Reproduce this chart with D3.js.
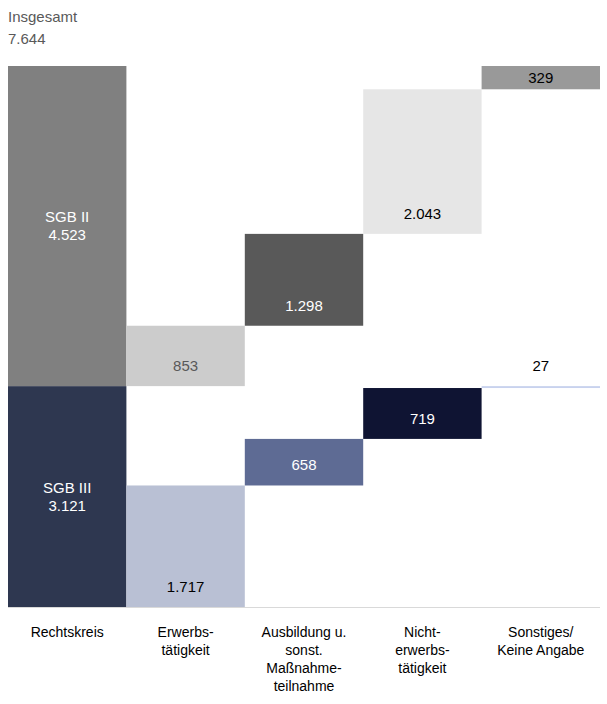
<!DOCTYPE html>
<html><head><meta charset="utf-8">
<script src="https://cdn.jsdelivr.net/npm/d3@7"></script>
<style>body{margin:0;background:#fff;font-family:"Liberation Sans",Arial,sans-serif;}</style>
</head><body><div id="chart"></div>
<script>
const categories = [["Rechtskreis"], ["Erwerbs-", "tätigkeit"], ["Ausbildung u.", "sonst.", "Maßnahme-", "teilnahme"], ["Nicht-", "erwerbs-", "tätigkeit"], ["Sonstiges/", "Keine Angabe"]];
const sgb3 = [3121, 1717, 658, 719, 27];
const sgb2 = [4523, 853, 1298, 2043, 329];
const total = 7644;
const colors3 = ["#2e3750", "#b9c0d4", "#5e6b94", "#0f1433", "#c8d2ee"];
const colors2 = ["#808080", "#cccccc", "#595959", "#e6e6e6", "#999999"];
const text3 = ["#fff", "#000", "#fff", "#fff", "#000"];
const text2 = ["#fff", "#595959", "#fff", "#000", "#000"];

const W = 607, H = 704;
const svg = d3.select("#chart").append("svg").attr("width", W).attr("height", H);
const x = d3.scaleBand().domain(d3.range(5)).range([8, 600]);
const y = d3.scaleLinear().domain([0, total]).range([607, 66]);
const fmt = v => d3.format(",")(v).replace(/,/g, ".");

// build segments: SGB III stacks from 0, SGB II from SGB III total
const segs = [];
let base = 0;
sgb3.forEach((v, i) => {
  const y0 = i === 0 ? 0 : base;
  segs.push({i, y0, y1: y0 + v, v, fill: colors3[i], tc: text3[i], label: i === 0 ? "SGB III" : null});
  if (i > 0) base += v;
});
base = sgb3[0];
sgb2.forEach((v, i) => {
  const y0 = i === 0 ? sgb3[0] : base;
  segs.push({i, y0, y1: y0 + v, v, fill: colors2[i], tc: text2[i], label: i === 0 ? "SGB II" : null});
  if (i > 0) base += v;
});

svg.selectAll("rect.seg").data(segs).join("rect")
  .attr("x", d => x(d.i)).attr("width", x.bandwidth())
  .attr("y", d => y(d.y1)).attr("height", d => Math.max(1.5, y(d.y0) - y(d.y1)))
  .attr("fill", d => d.fill);

segs.forEach(d => {
  const cx = x(d.i) + x.bandwidth() / 2;
  const top = y(d.y1), bot = y(d.y0);
  if (d.label) {
    const cy = (top + bot) / 2;
    const t = svg.append("text").attr("x", cx).attr("text-anchor", "middle")
      .attr("fill", d.tc).attr("font-size", 15);
    t.append("tspan").attr("x", cx).attr("y", cy - 4).text(d.label);
    t.append("tspan").attr("x", cx).attr("y", cy + 14).text(fmt(d.v));
  } else {
    let cy = Math.max((top + bot) / 2, bot - 20);
    if (bot - top < 5) cy = top - 20;
    svg.append("text").attr("x", cx).attr("y", cy + 5).attr("text-anchor", "middle")
      .attr("fill", d.tc).attr("font-size", 15).text(fmt(d.v));
  }
});

svg.append("line").attr("x1", 8).attr("x2", 600).attr("y1", 607.5).attr("y2", 607.5)
  .attr("stroke", "#d9d9d9");

const tt = svg.append("text").attr("fill", "#595959").attr("font-size", 15);
tt.append("tspan").attr("x", 8).attr("y", 22).text("Insgesamt");
tt.append("tspan").attr("x", 8).attr("y", 44).text(fmt(total));

categories.forEach((lines, i) => {
  const cx = x(i) + x.bandwidth() / 2;
  const t = svg.append("text").attr("text-anchor", "middle").attr("font-size", 14).attr("fill", "#000");
  lines.forEach((l, j) => t.append("tspan").attr("x", cx).attr("y", 637 + j * 18).text(l));
});
</script></body></html>
